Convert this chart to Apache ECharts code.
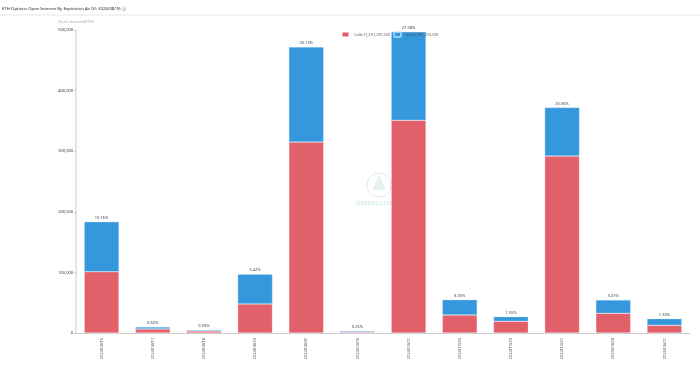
<!DOCTYPE html>
<html>
<head>
<meta charset="utf-8">
<script src="https://cdn.jsdelivr.net/npm/echarts@6/dist/echarts.min.js"></script>
<style>html,body{margin:0;padding:0;background:#fff}#c{width:700px;height:373px}</style>
</head>
<body>
<div id="c"></div>
<script>
const categories = ['2024/08/16','2024/08/17','2024/08/18','2024/08/23','2024/08/30','2024/09/06','2024/09/27','2024/10/25','2024/11/29','2024/12/27','2025/03/28','2025/06/27'];
const calls = [101000, 6600, 3300, 48000, 315000, 1600, 351000, 29700, 19300, 292000, 32500, 12600];
const puts = [82600, 3400, 1700, 48800, 157000, 1700, 146000, 25300, 7700, 80000, 22000, 11000];
const pctLabels = ['10.16%','0.60%','0.33%','5.42%','26.13%','0.25%','27.58%','3.05%','1.55%','20.56%','3.07%','1.33%'];
const yTicks = [0, 100000, 200000, 300000, 400000, 500000];
const legendCalls = 'Calls (1,231,291.00)';
const legendPuts = 'Puts (587,215.00)';
const titleText = 'ETH Options Open Interest By Expiration As Of: 2024/08/16 \u24D8';

const chart = echarts.init(document.getElementById('c'));
chart.setOption({
  animation: false,
  title: {
    text: titleText, left: 2, top: 7, padding: 0,
    textStyle: {fontSize: 4.3, fontWeight: 'normal', color: '#222', fontFamily: 'Noto Sans'}
  },
  graphic: [
    {type: 'line', shape: {x1: 0, y1: 15, x2: 700, y2: 15}, style: {stroke: '#e6e6e6', lineWidth: 1}},
    {type: 'circle', shape: {cx: 379, cy: 185, r: 12}, style: {fill: 'none', stroke: '#dcecec', lineWidth: 1}, z: 0},
    {type: 'polygon', shape: {points: [[379, 175], [386, 190], [372, 190]]}, style: {fill: '#e3f1f1'}, z: 0},
    {type: 'text', left: 356, top: 200, style: {text: 'GREEKS.LIVE', fontSize: 6, fontWeight: 'bold', fill: '#d3eaea', fontFamily: 'Noto Sans'}, z: 0}
  ],
  legend: {
    top: 26, left: 336, itemWidth: 7, itemHeight: 5, itemGap: 3,
    textStyle: {fontSize: 4, color: '#555', fontFamily: 'Noto Sans'},
    data: [{name: legendCalls}, {name: legendPuts}]
  },
  grid: {left: 76, right: 10, top: 30, bottom: 40},
  xAxis: {
    type: 'category', data: categories,
    axisLine: {lineStyle: {color: '#ccc'}},
    axisTick: {length: 2, lineStyle: {color: '#ccc'}},
    axisLabel: {rotate: 90, fontSize: 4, color: '#555', margin: 5, fontFamily: 'Noto Sans'}
  },
  yAxis: {
    type: 'value', min: yTicks[0], max: yTicks[yTicks.length - 1], interval: yTicks[1] - yTicks[0],
    name: 'Open Interest(ETH)', nameLocation: 'end', nameGap: 6,
    nameTextStyle: {fontSize: 4, color: '#aaa', align: 'center', fontFamily: 'Noto Sans'},
    axisLine: {show: true, lineStyle: {color: '#ddd', width: 1.5}},
    axisTick: {show: true, length: 2, lineStyle: {color: '#ccc'}},
    splitLine: {show: false},
    axisLabel: {fontSize: 4, color: '#333', margin: 3, fontFamily: 'Noto Sans',
      formatter: v => v.toLocaleString('en-US')}
  },
  series: [
    {name: legendCalls, type: 'bar', stack: 'oi', data: calls, barWidth: '68%',
      itemStyle: {color: '#e2606a', borderColor: 'rgba(255,255,255,0.5)', borderWidth: 0.5}},
    {name: legendPuts, type: 'bar', stack: 'oi', data: puts, barWidth: '68%',
      itemStyle: {color: '#3598dc', borderColor: 'rgba(200,230,255,0.7)', borderWidth: 0.5},
      label: {show: true, position: 'top', distance: 2, fontSize: 4, color: '#444', fontFamily: 'Noto Sans',
        formatter: p => pctLabels[p.dataIndex]}}
  ]
});
</script>
</body>
</html>
